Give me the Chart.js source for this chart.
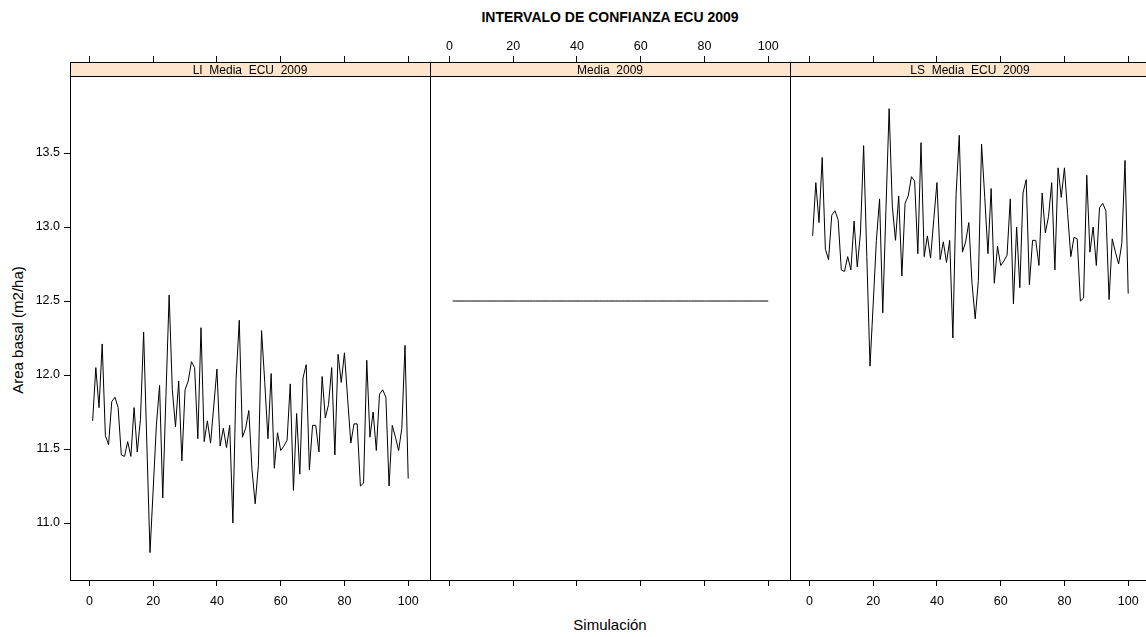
<!DOCTYPE html>
<html>
<head>
<meta charset="utf-8">
<script src="https://cdn.jsdelivr.net/npm/chart.js@4.4.1/dist/chart.umd.min.js"></script>
<style>
  html, body { margin: 0; padding: 0; background: #fff; overflow: hidden; }
  body { width: 1146px; height: 637px; position: relative; font-family: 'Liberation Sans', Arial, sans-serif; }
  canvas { position: absolute; top: 0; }
  .lbl { position: absolute; color: #000; white-space: nowrap; line-height: 1; }
  #main-title { top: 10px; left: 70px; width: 1080px; text-align: center; font-weight: bold; font-size: 14px; }
  #x-title { top: 617px; left: 70px; width: 1080px; text-align: center; font-size: 15px; }
  #y-title { left: 17px; top: 330px; font-size: 15px; transform: translate(-50%, -50%) rotate(-90deg); }
</style>
</head>
<body>
<div id="main-title" class="lbl">INTERVALO DE CONFIANZA ECU 2009</div>
<div id="y-title" class="lbl">Area basal (m2/ha)</div>
<div id="x-title" class="lbl">Simulación</div>
<canvas id="panel-li" width="440" height="637" style="left:0px"></canvas>
<canvas id="panel-media" width="440" height="637" style="left:360px"></canvas>
<canvas id="panel-ls" width="440" height="637" style="left:720px"></canvas>
<script>
'use strict';

// ===== datos =====

const SIMULACION = Array.from({ length: 100 }, (_, i) => i + 1);

const LI_MEDIA_ECU_2009 = [
    11.69, 12.05, 11.78, 12.21, 11.59, 11.53, 11.82, 11.85, 11.78, 11.46,
    11.45, 11.55, 11.45, 11.78, 11.48, 11.70, 12.29, 11.54, 10.80, 11.23,
    11.66, 11.93, 11.17, 11.86, 12.54, 11.90, 11.65, 11.96, 11.42, 11.90,
    11.96, 12.09, 12.05, 11.57, 12.32, 11.55, 11.69, 11.54, 11.79, 12.04,
    11.52, 11.64, 11.51, 11.66, 11.00, 11.97, 12.37, 11.58, 11.64, 11.76,
    11.36, 11.13, 11.39, 12.30, 11.95, 11.57, 12.01, 11.37, 11.61, 11.49,
    11.52, 11.56, 11.94, 11.22, 11.74, 11.33, 11.98, 12.07, 11.36, 11.66,
    11.66, 11.48, 11.99, 11.71, 11.80, 12.05, 11.46, 12.14, 11.95, 12.15,
    11.84, 11.54, 11.67, 11.67, 11.25, 11.27, 12.10, 11.58, 11.75, 11.49,
    11.87, 11.90, 11.85, 11.25, 11.66, 11.58, 11.49, 11.64, 12.20, 11.30,
];

const MEDIA_2009 = [
    12.50, 12.50, 12.50, 12.50, 12.50, 12.50, 12.50, 12.50, 12.50, 12.50,
    12.50, 12.50, 12.50, 12.50, 12.50, 12.50, 12.50, 12.50, 12.50, 12.50,
    12.50, 12.50, 12.50, 12.50, 12.50, 12.50, 12.50, 12.50, 12.50, 12.50,
    12.50, 12.50, 12.50, 12.50, 12.50, 12.50, 12.50, 12.50, 12.50, 12.50,
    12.50, 12.50, 12.50, 12.50, 12.50, 12.50, 12.50, 12.50, 12.50, 12.50,
    12.50, 12.50, 12.50, 12.50, 12.50, 12.50, 12.50, 12.50, 12.50, 12.50,
    12.50, 12.50, 12.50, 12.50, 12.50, 12.50, 12.50, 12.50, 12.50, 12.50,
    12.50, 12.50, 12.50, 12.50, 12.50, 12.50, 12.50, 12.50, 12.50, 12.50,
    12.50, 12.50, 12.50, 12.50, 12.50, 12.50, 12.50, 12.50, 12.50, 12.50,
    12.50, 12.50, 12.50, 12.50, 12.50, 12.50, 12.50, 12.50, 12.50, 12.50,
];

const LS_MEDIA_ECU_2009 = [
    12.94, 13.30, 13.03, 13.47, 12.85, 12.78, 13.08, 13.11, 13.05, 12.71,
    12.70, 12.80, 12.71, 13.04, 12.73, 12.96, 13.55, 12.80, 12.06, 12.48,
    12.91, 13.19, 12.42, 13.12, 13.80, 13.14, 12.91, 13.21, 12.67, 13.16,
    13.21, 13.34, 13.31, 12.82, 13.57, 12.80, 12.94, 12.79, 13.05, 13.30,
    12.78, 12.90, 12.76, 12.91, 12.25, 13.22, 13.62, 12.83, 12.90, 13.03,
    12.62, 12.38, 12.64, 13.56, 13.20, 12.82, 13.26, 12.62, 12.87, 12.74,
    12.77, 12.81, 13.19, 12.48, 13.00, 12.59, 13.23, 13.32, 12.61, 12.91,
    12.91, 12.74, 13.23, 12.96, 13.07, 13.30, 12.71, 13.40, 13.20, 13.40,
    13.09, 12.80, 12.93, 12.92, 12.50, 12.52, 13.35, 12.83, 13.00, 12.74,
    13.13, 13.16, 13.11, 12.51, 12.92, 12.83, 12.75, 12.89, 13.45, 12.55,
];

const X_TICKS = [0, 20, 40, 60, 80, 100];
const Y_TICKS = [11.0, 11.5, 12.0, 12.5, 13.0, 13.5];

// ===== estilo =====

const FONT_FAMILY = "'Liberation Sans', Arial, sans-serif";
const STRIP_BG    = '#ffe5cc';
const STRIP_H     = 14;
const X_MIN = -6.1, X_MAX = 106.84;
const Y_MIN = 10.615, Y_MAX = 14.115;   // incluye la franja del título del panel

// marco del panel + franja con el nombre de la variable
const panelFrame = {
    id: 'panelFrame',
    afterDatasetsDraw(chart, args, opts) {
        const { ctx, chartArea: a } = chart;
        const w = a.right - a.left;
        ctx.save();
        ctx.fillStyle = STRIP_BG;
        ctx.fillRect(a.left, a.top, w, STRIP_H);
        ctx.strokeStyle = '#000';
        ctx.lineWidth = 1;
        ctx.beginPath();
        ctx.moveTo(a.left, a.top + STRIP_H + 0.5);
        ctx.lineTo(a.right, a.top + STRIP_H + 0.5);
        ctx.stroke();
        ctx.strokeRect(a.left + 0.5, a.top + 0.5, w, a.bottom - a.top);
        ctx.fillStyle = '#000';
        ctx.font = `12px ${FONT_FAMILY}`;
        ctx.textAlign = 'center';
        ctx.textBaseline = 'alphabetic';
        ctx.fillText(opts.label, (a.left + a.right) / 2, a.top + 11.5);
        ctx.restore();
    },
};

function tickGrid() {
    return {
        display: true,
        drawOnChartArea: false,
        drawTicks: true,
        tickLength: 6,
        color: '#000',
        tickColor: '#000',
        lineWidth: 1,
    };
}

function xScale(position, showLabels, height, pad) {
    return {
        type: 'linear',
        position,
        min: X_MIN,
        max: X_MAX,
        afterBuildTicks: s => { s.ticks = X_TICKS.map(v => ({ value: v })); },
        afterFit: s => { s.height = height; },
        grid: tickGrid(),
        border: { display: false },
        ticks: {
            display: showLabels,
            color: '#000',
            font: { family: FONT_FAMILY, size: 12.5 },
            padding: pad,
            maxRotation: 0,
            autoSkip: false,
            callback: v => String(v),
        },
    };
}

function makePanel(canvasId, label, values, { showY, topLabels, bottomLabels }) {
    const ctx = document.getElementById(canvasId).getContext('2d');
    return new Chart(ctx, {
        type: 'line',
        data: {
            datasets: [{
                data: SIMULACION.map((x, i) => ({ x, y: values[i] })),
                borderColor: '#000',
                borderWidth: 1,
                pointRadius: 0,
                tension: 0,
                fill: false,
            }],
        },
        options: {
            responsive: false,
            animation: false,
            devicePixelRatio: 1,
            events: [],
            // el eje y siempre ocupa 70px (afterFit), visible o no
            layout: { padding: { left: 0, right: 10, top: 40, bottom: 17 } },
            plugins: {
                legend: { display: false },
                tooltip: { enabled: false },
                panelFrame: { label },
            },
            scales: {
                x: xScale('bottom', bottomLabels, 40, 8),
                xTop: xScale('top', topLabels, 22, 2),
                y: {
                    type: 'linear',
                    position: 'left',
                    display: showY,
                    min: Y_MIN,
                    max: Y_MAX,
                    afterBuildTicks: s => { s.ticks = Y_TICKS.map(v => ({ value: v })); },
                    afterFit: s => { s.width = 70; },
                    grid: tickGrid(),
                    border: { display: false },
                    ticks: {
                        color: '#000',
                        font: { family: FONT_FAMILY, size: 12.5 },
                        padding: 4,
                        callback: v => v.toFixed(1),
                    },
                },
            },
        },
        plugins: [panelFrame],
    });
}

makePanel('panel-li',    'LI_Media_ECU_2009', LI_MEDIA_ECU_2009, { showY: true,  topLabels: false, bottomLabels: true });
makePanel('panel-media', 'Media_2009',        MEDIA_2009,        { showY: false, topLabels: true,  bottomLabels: false });
makePanel('panel-ls',    'LS_Media_ECU_2009', LS_MEDIA_ECU_2009, { showY: false, topLabels: false, bottomLabels: true });
</script>
</body>
</html>
